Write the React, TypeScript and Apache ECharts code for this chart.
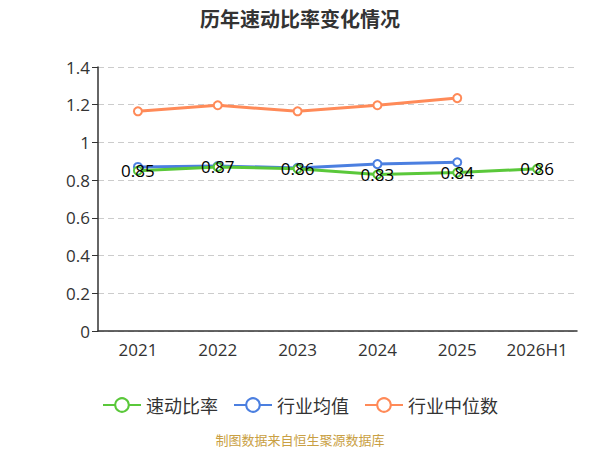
import React, { useEffect, useRef } from "react";
import * as echarts from "echarts";

const categories = ["2021", "2022", "2023", "2024", "2025", "2026H1"];
const quickRatio = [0.85, 0.87, 0.86, 0.83, 0.84, 0.86];
const industryAvg = [0.87, 0.875, 0.865, 0.885, 0.895];
const industryMedian = [1.165, 1.197, 1.165, 1.197, 1.235];

export default function App() {
  const ref = useRef<HTMLDivElement>(null);
  useEffect(() => {
    document.body.style.margin = "0";
    const chart = echarts.init(ref.current!, undefined, { renderer: "svg" });
    const font = "'Noto Sans CJK SC', 'Open Sans', sans-serif";
    const numFont = "'Open Sans', 'Noto Sans', sans-serif";
    chart.setOption({
      animation: false,
      textStyle: { fontFamily: font },
      title: {
        text: "历年速动比率变化情况",
        left: "center",
        top: 3,
        textStyle: { fontSize: 20, fontWeight: "bold", color: "#333", fontFamily: font },
      },
      grid: { left: 98, right: 23, top: 67, bottom: 119 },
      legend: {
        top: 391,
        left: "center",
        itemWidth: 38,
        itemHeight: 17,
        itemGap: 15,
        textStyle: { fontSize: 18, color: "#333" },
        data: ["速动比率", "行业均值", "行业中位数"],
      },
      graphic: [
        {
          type: "text",
          left: "center",
          top: 433,
          style: { text: "制图数据来自恒生聚源数据库", fill: "#c9a043", fontSize: 13, fontFamily: font },
        },
      ],
      xAxis: {
        type: "category",
        data: categories,
        axisLine: { lineStyle: { color: "#333", width: 1.5 } },
        axisTick: { length: 6, lineStyle: { color: "#333" } },
        axisLabel: { fontSize: 17, color: "#333", margin: 10, fontFamily: numFont },
      },
      yAxis: {
        type: "value",
        min: 0,
        max: 1.4,
        interval: 0.2,
        axisLine: { show: true, lineStyle: { color: "#333", width: 1.5 } },
        axisTick: { show: true, length: 6, lineStyle: { color: "#333" } },
        axisLabel: { fontSize: 17, color: "#333", margin: 8, fontFamily: numFont },
        splitLine: { lineStyle: { type: [6, 4], color: "#ccc" } },
      },
      series: [
        {
          name: "速动比率",
          type: "line",
          data: quickRatio,
          symbol: "emptyCircle",
          symbolSize: 8,
          itemStyle: { color: "#5ac83a", borderWidth: 2 },
          lineStyle: { color: "#5ac83a", width: 3 },
          label: {
            show: true,
            position: "inside",
            fontSize: 17,
            color: "#000",
            fontFamily: numFont,
          },
          z: 3,
        },
        {
          name: "行业均值",
          type: "line",
          data: industryAvg,
          symbol: "emptyCircle",
          symbolSize: 8,
          itemStyle: { color: "#4b7fe0", borderWidth: 2 },
          lineStyle: { color: "#4b7fe0", width: 3 },
          z: 2,
        },
        {
          name: "行业中位数",
          type: "line",
          data: industryMedian,
          symbol: "emptyCircle",
          symbolSize: 8,
          itemStyle: { color: "#ff8a58", borderWidth: 2 },
          lineStyle: { color: "#ff8a58", width: 3 },
        },
      ],
    });
    return () => chart.dispose();
  }, []);
  return <div ref={ref} style={{ width: 600, height: 450 }} />;
}
